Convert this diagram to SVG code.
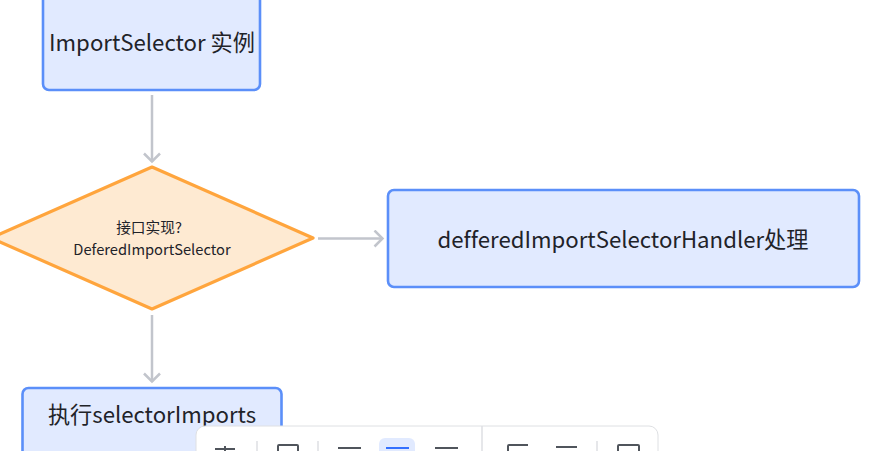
<svg xmlns="http://www.w3.org/2000/svg" width="878" height="451" viewBox="0 0 878 451">
<defs><marker id="arr" markerWidth="18" markerHeight="18" refX="14.500" refY="9" orient="auto" markerUnits="userSpaceOnUse"><path d="M6 1L14 9L6 17" fill="none" stroke="#c2c5cc" stroke-width="2.5"/></marker></defs>
<style>
text{font-family:"Noto Sans CJK SC","Noto Sans",sans-serif;fill:#1f2329;text-anchor:middle;font-variant-ligatures:none}
.n{fill:#e1eaff;stroke:#5b8ff9;stroke-width:2.6}
.c{fill:none;stroke:#c2c5cc;stroke-width:2.5;marker-end:url(#arr)}
.t{font-size:22.2px}
.s{font-size:14.7px}
.i{fill:none;stroke:#50555c;stroke-width:2}
.d{stroke:#dee0e3;stroke-width:1.5}
</style>
<rect width="878" height="451" fill="#fff"/>
<g id="connectors">
<path class="c" d="M152 95V162"/>
<path class="c" d="M318 238.500H383"/>
<path class="c" d="M152 315V382"/>
</g>
<g id="node-import"><rect class="n" x="43" y="-20" width="217" height="110" rx="6"/><text class="t" x="152" y="51">ImportSelector 实例</text></g>
<g id="node-decision"><polygon points="152,167 313,238 152,309 -9,238" fill="#feead2" stroke="#ffa53d" stroke-width="3.2" stroke-linejoin="round"/><text class="s" x="149" y="233">接口实现?</text><text class="s" x="152" y="255">DeferedImportSelector</text></g>
<g id="node-handler"><rect class="n" x="388" y="190" width="471" height="97" rx="6"/><text class="t" x="623" y="248">defferedImportSelectorHandler处理</text></g>
<g id="node-exec"><rect class="n" x="22.500" y="388" width="259" height="70" rx="6"/><text class="t" x="152" y="423">执行selectorImports</text></g>
<g id="toolbar">
<rect x="196" y="426" width="462" height="50" rx="9" fill="#fff" stroke="#dee0e3"/>
<rect x="379" y="438" width="36" height="30" rx="6" fill="#e1eaff"/>
<path class="d" d="M257 441V470M318 441V470M482 426V470M597 441V470"/>
<path class="i" d="M215 449H235M225 446V451M338 448H361M435 448H458M556 447H577"/>
<path d="M386 448H409" fill="none" stroke="#3370ff" stroke-width="2"/>
<path class="i" d="M278 470V446Q278 445 279 445H297Q298 445 298 446V470M508 470V446Q508 445 509 445H528M618 470V446Q618 445 619 445H638Q639 445 639 446V470"/>
</g>
</svg>
